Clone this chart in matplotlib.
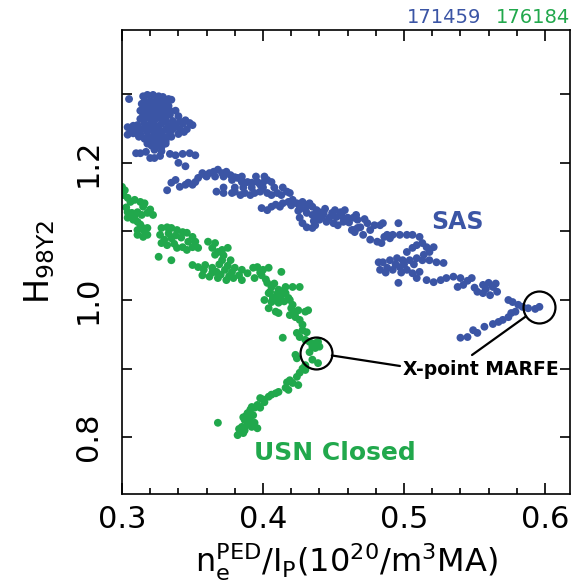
import matplotlib.pyplot as plt
from matplotlib.ticker import FixedLocator

plt.rcParams['font.family'] = 'DejaVu Sans'
plt.rcParams['mathtext.default'] = 'regular'

# shot 171459 (SAS)
sas_x = [0.305, 0.315, 0.318, 0.322, 0.326, 0.329, 0.333, 0.335, 0.314, 0.318, 0.321, 0.326, 0.329, 0.333,
         0.313, 0.316, 0.320, 0.323, 0.327, 0.331, 0.334, 0.338, 0.340, 0.313, 0.316, 0.320, 0.323, 0.327,
         0.331, 0.336, 0.341, 0.345, 0.304, 0.308, 0.311, 0.316, 0.320, 0.324, 0.328, 0.333, 0.338, 0.343,
         0.348, 0.350, 0.304, 0.308, 0.313, 0.318, 0.323, 0.328, 0.334, 0.340, 0.344, 0.316, 0.320, 0.323,
         0.327, 0.331, 0.321, 0.326, 0.328, 0.310, 0.313, 0.317, 0.323, 0.328, 0.334, 0.338, 0.343, 0.348,
         0.352, 0.320, 0.323, 0.327, 0.340, 0.345,
         0.316, 0.320, 0.324, 0.328, 0.331, 0.316, 0.320, 0.324, 0.327, 0.331, 0.315, 0.319, 0.322, 0.326,
         0.330, 0.334, 0.306, 0.310, 0.314, 0.318, 0.322, 0.326, 0.331, 0.336, 0.341, 0.346, 0.312, 0.318,
         0.322, 0.326, 0.330, 0.335, 0.318, 0.323, 0.327, 0.331,
         0.332, 0.335, 0.338, 0.341, 0.345, 0.347, 0.350, 0.352, 0.354, 0.357, 0.359, 0.362, 0.365, 0.368,
         0.371, 0.374, 0.377, 0.378, 0.380, 0.382, 0.385, 0.387, 0.389, 0.392, 0.396, 0.398, 0.400, 0.403,
         0.406, 0.367, 0.372, 0.378, 0.380, 0.384, 0.387, 0.391, 0.394, 0.398, 0.403, 0.406, 0.410, 0.413,
         0.417, 0.419, 0.399, 0.403, 0.406, 0.409, 0.412, 0.414, 0.418, 0.421, 0.424, 0.426, 0.428, 0.431,
         0.433, 0.435, 0.438, 0.440, 0.443, 0.431, 0.435, 0.438, 0.426, 0.428, 0.431, 0.435, 0.437, 0.440,
         0.445, 0.449, 0.451, 0.455, 0.458, 0.450, 0.453, 0.457, 0.460, 0.464, 0.467, 0.463, 0.465, 0.467,
         0.466, 0.472,
         0.372, 0.380, 0.386, 0.392, 0.400, 0.408, 0.414, 0.360, 0.366, 0.372, 0.385, 0.395, 0.401,
         0.420, 0.425, 0.430, 0.442, 0.447, 0.452, 0.456, 0.461, 0.444, 0.436,
         0.464, 0.469, 0.474, 0.476, 0.479, 0.483, 0.485, 0.471, 0.476, 0.481, 0.484, 0.496, 0.488, 0.492,
         0.497, 0.502, 0.506, 0.511, 0.502, 0.506, 0.509, 0.513, 0.516, 0.521, 0.482, 0.485, 0.490, 0.495,
         0.499, 0.504, 0.509, 0.513, 0.518, 0.523, 0.528, 0.483, 0.488, 0.492, 0.497, 0.502, 0.506, 0.511,
         0.496, 0.509, 0.516, 0.521, 0.526, 0.530, 0.535, 0.540, 0.538, 0.542, 0.550, 0.552, 0.556, 0.560,
         0.563, 0.566, 0.561, 0.556, 0.574, 0.577, 0.581, 0.584, 0.588, 0.593, 0.596,
         0.490, 0.486, 0.500, 0.494, 0.507, 0.487, 0.498, 0.514, 0.518, 0.545, 0.548, 0.558, 0.565,
         0.540, 0.545, 0.549, 0.552, 0.557, 0.563, 0.567, 0.570, 0.574, 0.576, 0.579]
sas_y = [1.293, 1.297, 1.299, 1.299, 1.297, 1.296, 1.293, 1.292, 1.286, 1.287, 1.286, 1.286, 1.284, 1.283,
         1.276, 1.277, 1.277, 1.276, 1.274, 1.277, 1.276, 1.276, 1.268, 1.264, 1.265, 1.264, 1.262, 1.265,
         1.262, 1.261, 1.260, 1.262, 1.252, 1.254, 1.255, 1.257, 1.255, 1.254, 1.257, 1.254, 1.254, 1.257,
         1.258, 1.255, 1.241, 1.243, 1.242, 1.245, 1.243, 1.243, 1.243, 1.242, 1.245, 1.235, 1.232, 1.233,
         1.235, 1.232, 1.225, 1.226, 1.223, 1.214, 1.214, 1.216, 1.219, 1.217, 1.213, 1.211, 1.213, 1.214,
         1.211, 1.207, 1.207, 1.210, 1.200, 1.195,
         1.290, 1.290, 1.290, 1.290, 1.290, 1.281, 1.281, 1.281, 1.281, 1.281, 1.270, 1.270, 1.270, 1.270,
         1.270, 1.270, 1.249, 1.249, 1.249, 1.249, 1.249, 1.249, 1.249, 1.249, 1.249, 1.249, 1.238, 1.238,
         1.238, 1.238, 1.238, 1.238, 1.228, 1.228, 1.228, 1.228,
         1.160, 1.171, 1.175, 1.165, 1.168, 1.171, 1.168, 1.172, 1.178, 1.185, 1.182, 1.185, 1.187, 1.190,
         1.185, 1.187, 1.182, 1.175, 1.179, 1.178, 1.172, 1.171, 1.172, 1.171, 1.172, 1.168, 1.171, 1.175,
         1.172, 1.158, 1.156, 1.156, 1.158, 1.153, 1.156, 1.153, 1.156, 1.158, 1.156, 1.153, 1.156, 1.153,
         1.158, 1.156, 1.134, 1.131, 1.136, 1.139, 1.136, 1.141, 1.143, 1.146, 1.141, 1.136, 1.143, 1.139,
         1.141, 1.136, 1.131, 1.128, 1.127, 1.127, 1.124, 1.121, 1.120, 1.112, 1.106, 1.105, 1.109, 1.117,
         1.114, 1.127, 1.131, 1.128, 1.131, 1.112, 1.109, 1.114, 1.120, 1.120, 1.117, 1.102, 1.099, 1.105,
         1.124, 1.118,
         1.164, 1.164, 1.164, 1.164, 1.164, 1.164, 1.164, 1.180, 1.180, 1.180, 1.180, 1.180, 1.180,
         1.138, 1.130, 1.132, 1.122, 1.120, 1.121, 1.122, 1.113, 1.133, 1.115,
         1.102, 1.106, 1.112, 1.102, 1.109, 1.109, 1.112, 1.095, 1.088, 1.085, 1.083, 1.112, 1.095, 1.095,
         1.095, 1.095, 1.095, 1.092, 1.070, 1.076, 1.080, 1.083, 1.077, 1.077, 1.055, 1.055, 1.058, 1.061,
         1.058, 1.058, 1.061, 1.058, 1.058, 1.055, 1.054, 1.044, 1.047, 1.044, 1.048, 1.044, 1.039, 1.041,
         1.025, 1.032, 1.029, 1.026, 1.029, 1.032, 1.034, 1.032, 1.019, 1.022, 1.018, 1.012, 1.022, 1.025,
         1.019, 1.012, 1.007, 1.010, 1.000, 0.997, 0.993, 0.990, 0.988, 0.987, 0.990,
         1.090, 1.092, 1.052, 1.052, 1.052, 1.040, 1.040, 1.066, 1.070, 1.028, 1.032, 1.016, 1.024,
         0.945, 0.946, 0.956, 0.952, 0.961, 0.965, 0.968, 0.971, 0.975, 0.981, 0.983]

# shot 176184 (USN closed)
usn_x = [0.300, 0.302, 0.301, 0.304, 0.306, 0.309, 0.313, 0.316, 0.315, 0.304, 0.307, 0.311, 0.314, 0.318,
         0.322, 0.304, 0.308, 0.311, 0.311, 0.314, 0.318, 0.311, 0.315, 0.318, 0.328, 0.332, 0.335, 0.339,
         0.343, 0.346, 0.350, 0.352, 0.327, 0.330, 0.335, 0.328, 0.339, 0.343, 0.346, 0.350, 0.354, 0.326,
         0.335, 0.361, 0.366, 0.364, 0.371, 0.375, 0.366, 0.371, 0.377, 0.350, 0.354, 0.359, 0.364, 0.367,
         0.373, 0.378, 0.357, 0.362, 0.368, 0.374, 0.379, 0.385, 0.389, 0.393, 0.396, 0.400, 0.404, 0.399,
         0.394, 0.385, 0.413, 0.403, 0.406, 0.411, 0.416, 0.421, 0.426, 0.404, 0.409, 0.413, 0.418, 0.405,
         0.412, 0.416, 0.401, 0.406, 0.411, 0.419, 0.404, 0.409, 0.411, 0.421, 0.425, 0.430, 0.432, 0.419,
         0.423, 0.426, 0.428, 0.428, 0.424, 0.426, 0.431, 0.430, 0.414, 0.433, 0.437, 0.439, 0.435, 0.433,
         0.437, 0.440, 0.435, 0.439, 0.423, 0.424, 0.430, 0.430, 0.426, 0.424, 0.419, 0.417, 0.425, 0.416,
         0.418, 0.409, 0.406, 0.404, 0.398, 0.401, 0.396, 0.392, 0.394, 0.391, 0.389, 0.398, 0.393, 0.389,
         0.386, 0.387, 0.391, 0.394, 0.389, 0.385, 0.387, 0.384, 0.382, 0.386, 0.392, 0.396, 0.368,
         0.303, 0.309, 0.320, 0.313, 0.316, 0.333, 0.338, 0.342, 0.347, 0.332, 0.337,
         0.368, 0.372, 0.369, 0.375, 0.380, 0.364, 0.370, 0.376, 0.383, 0.358,
         0.398, 0.402, 0.408, 0.414, 0.410, 0.407, 0.415, 0.420, 0.423,
         0.428, 0.421, 0.411, 0.400, 0.388, 0.390, 0.383]
usn_y = [1.165, 1.160, 1.153, 1.149, 1.143, 1.146, 1.143, 1.141, 1.136, 1.128, 1.127, 1.128, 1.124, 1.127,
         1.124, 1.120, 1.117, 1.114, 1.102, 1.106, 1.105, 1.095, 1.092, 1.095, 1.105, 1.106, 1.105, 1.102,
         1.099, 1.098, 1.092, 1.085, 1.095, 1.088, 1.090, 1.083, 1.076, 1.077, 1.073, 1.077, 1.076, 1.063,
         1.058, 1.085, 1.083, 1.076, 1.073, 1.076, 1.066, 1.058, 1.058, 1.051, 1.048, 1.051, 1.047, 1.041,
         1.044, 1.041, 1.036, 1.034, 1.032, 1.029, 1.032, 1.044, 1.039, 1.047, 1.048, 1.044, 1.047, 1.036,
         1.032, 1.029, 1.041, 1.025, 1.019, 1.015, 1.019, 1.019, 1.019, 1.010, 1.004, 1.007, 1.003, 1.012,
         1.004, 1.010, 1.000, 0.997, 0.996, 1.000, 0.988, 0.983, 0.981, 0.993, 0.985, 0.983, 0.985, 0.978,
         0.975, 0.971, 0.964, 0.956, 0.952, 0.946, 0.953, 0.942, 0.945, 0.939, 0.937, 0.939, 0.932, 0.924,
         0.930, 0.932, 0.913, 0.908, 0.920, 0.915, 0.905, 0.898, 0.894, 0.888, 0.883, 0.880, 0.876, 0.872,
         0.869, 0.864, 0.862, 0.859, 0.857, 0.851, 0.847, 0.844, 0.843, 0.840, 0.835, 0.843, 0.832, 0.829,
         0.829, 0.825, 0.822, 0.821, 0.818, 0.815, 0.810, 0.808, 0.803, 0.806, 0.815, 0.813, 0.821,
         1.135, 1.122, 1.132, 1.110, 1.100, 1.097, 1.094, 1.091, 1.085, 1.080, 1.082,
         1.070, 1.065, 1.052, 1.050, 1.047, 1.040, 1.037, 1.035, 1.036, 1.044,
         1.040, 1.030, 1.024, 1.013, 1.009, 1.003, 0.998, 0.988, 0.982,
         0.900, 0.879, 0.866, 0.855, 0.831, 0.826, 0.812]

# X-point MARFE onset for each shot (circled)
marfe_x = [0.4376, 0.5957]
marfe_y = [0.9227, 0.9898]

BLUE = '#3b55a5'
GREEN = '#21a84c'

fig = plt.figure(figsize=(5.79, 5.83), dpi=100)
ax = fig.add_axes([0.2107, 0.1527, 0.7738, 0.7958])

ax.scatter(sas_x, sas_y, s=32, color=BLUE, edgecolors='none')
ax.scatter(usn_x, usn_y, s=32, color=GREEN, edgecolors='none')
ax.plot(marfe_x, marfe_y, 'o', ms=23, mfc='none', mec='black', mew=1.6)

ax.text(0.5545, 0.898, 'X-point MARFE', ha='center', va='center', fontsize=13.5, fontweight='bold')
for mx, my, sx, sy in [(marfe_x[0], marfe_y[0], 0.4971, 0.9038),
                       (marfe_x[1], marfe_y[1], 0.5482, 0.9198)]:
    ax.annotate('', xy=(mx, my), xytext=(sx, sy),
                arrowprops=dict(arrowstyle='-', color='black', lw=1.6, shrinkA=0, shrinkB=11.5))

ax.text(0.538, 1.114, 'SAS', color=BLUE, ha='center', va='center', fontsize=17, fontweight='bold')
ax.text(0.451, 0.777, 'USN Closed', color=GREEN, ha='center', va='center', fontsize=18, fontweight='bold')

fig.text(570 / 579, 1 - 23 / 583, '176184', color=GREEN, ha='right', va='baseline', fontsize=14)
fig.text(481 / 579, 1 - 23 / 583, '171459', color=BLUE, ha='right', va='baseline', fontsize=14)

ax.set_xlim(0.3, 0.6177)
ax.set_ylim(0.7172, 1.3936)
ax.set_xticks([0.3, 0.4, 0.5, 0.6])
ax.set_xticklabels(['0.3', '0.4', '0.5', '0.6'])
ax.xaxis.set_minor_locator(FixedLocator([0.32, 0.34, 0.36, 0.38, 0.42, 0.44, 0.46, 0.48,
                                         0.52, 0.54, 0.56, 0.58]))
ax.set_yticks([0.8, 1.0, 1.2])
ax.set_yticklabels(['0.8', '1.0', '1.2'])
ax.yaxis.set_minor_locator(FixedLocator([0.9, 1.1, 1.3]))

ax.tick_params(which='both', direction='in', top=True, right=True, width=1.2, labelsize=22)
ax.tick_params(axis='x', which='major', length=8, pad=8)
ax.tick_params(axis='x', which='minor', length=4)
ax.tick_params(axis='y', which='both', length=7, pad=14)
plt.setp(ax.get_yticklabels(), rotation=90, va='center')
for sp in ax.spines.values():
    sp.set_linewidth(1.2)

ax.set_xlabel(r'$n_e^{PED}/I_P(10^{20}/m^3MA)$', fontsize=23, labelpad=5)
ax.set_ylabel(r'$H_{98Y2}$', fontsize=24, labelpad=12)

fig.savefig('out.png', dpi=100)
